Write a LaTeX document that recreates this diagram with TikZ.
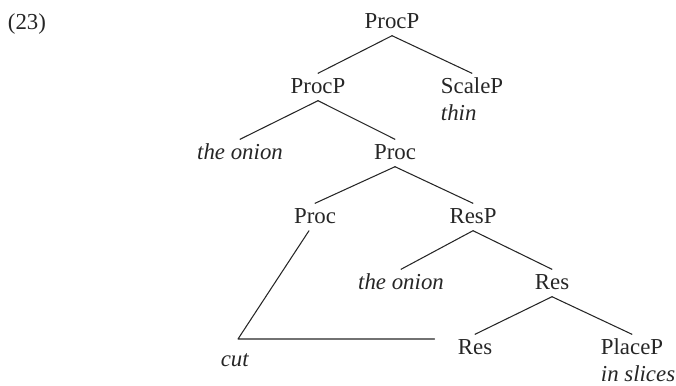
\documentclass[tikz,border=0pt]{standalone}
\usepackage{fontspec}
\setmainfont{Liberation Serif}
\tikzset{cat/.style={inner sep=2pt,text height=9pt,text depth=2pt},
	gloss/.style={cat,anchor=north west,font=\fontsize{13}{15}\selectfont\itshape}}
\begin{document}
\begin{tikzpicture}[line cap=round,line join=round,font=\fontsize{13}{15}\selectfont,black!85,line width=0.6pt]
	\useasboundingbox (0,0) rectangle (13.52,7.7);
	\node[cat] (ex) at (0.54,7.24) {(23)};
	% categories of the tree
	\foreach \x/\y/\name/\lbl in {7.84/7.26/top/ProcP,6.36/5.96/procp/ProcP,9.44/5.96/scalep/ScaleP,
		4.80/4.64/objA/\textit{the onion},7.90/4.64/proc/Proc,6.30/3.36/procB/Proc,9.46/3.36/resp/ResP,
		8.02/2.04/objB/\textit{the onion},11.04/2.04/res/Res,9.50/0.74/resB/Res,12.64/0.74/placep/PlaceP,
		4.70/0.50/cut/\textit{cut}}
	\node[cat] (\name) at (\x,\y) {\lbl};
	\node[gloss] (thin) at (scalep.south west) {thin};
	\node[gloss] (slices) at (placep.south west) {in slices};
	% branches
	\foreach \a/\b in {top/procp,top/scalep,procp/objA,procp/proc,proc/procB,proc/resp,resp/objB,resp/res,res/resB,res/placep}
	\draw (\a.south) -- (\b.north);
	% head movement of cut
	\coordinate (bend) at (4.76,0.92);
	\draw[shorten >=11pt] ([xshift=-0.12cm]procB.south) -- (bend) -- (bend -| resB.west);
\end{tikzpicture}
\end{document}
